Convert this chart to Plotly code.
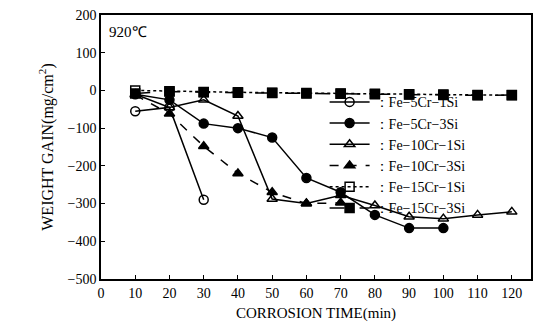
import plotly.graph_objects as go

time = [10, 20, 30, 40, 50, 60, 70, 80, 90, 100, 110, 120]

t_5cr1si = [10, 20, 30]
w_5cr1si = [-55, -45, -290]

t_5cr3si = [10, 20, 30, 40, 50, 60, 70, 80, 90, 100]
w_5cr3si = [-10, -25, -88, -100, -125, -232, -270, -330, -365, -365]

t_10cr1si = [10, 20, 30, 40, 50, 60, 70, 80, 90, 100, 110, 120]
w_10cr1si = [-10, -45, -25, -68, -288, -300, -278, -305, -335, -340, -330, -322]

t_10cr3si = [10, 20, 30, 40, 50, 60, 70]
w_10cr3si = [-12, -62, -148, -220, -270, -300, -298]

t_15cr1si = time
w_15cr1si = [0, -2, -4, -5, -6, -7, -8, -9, -10, -11, -12, -13]

t_15cr3si = time
w_15cr3si = [-8, -3, -5, -6, -7, -8, -9, -10, -11, -12, -13, -12]

labels = ["：Fe−5Cr−1Si", "：Fe−5Cr−3Si", "：Fe−10Cr−1Si",
          "：Fe−10Cr−3Si", "：Fe−15Cr−1Si", "：Fe−15Cr−3Si"]

series = [
    (t_5cr1si, w_5cr1si, "circle-open", "solid"),
    (t_5cr3si, w_5cr3si, "circle", "solid"),
    (t_10cr1si, w_10cr1si, "triangle-up-open", "solid"),
    (t_10cr3si, w_10cr3si, "triangle-up", "dash"),
    (t_15cr1si, w_15cr1si, "square-open", "dot"),
    (t_15cr3si, w_15cr3si, "square", "longdash"),
]

font = "serif"

fig = go.Figure()
for (x, y, sym, dash), name in zip(series, labels):
    fig.add_trace(go.Scatter(
        x=x, y=y, name=name, mode="lines+markers",
        line=dict(color="black", width=1.5, dash=dash),
        marker=dict(symbol=sym, size=9, color="black",
                    line=dict(color="black", width=1.5)),
    ))

fig.update_layout(
    width=541, height=327,
    margin=dict(l=101, r=8, t=13, b=44),
    paper_bgcolor="white", plot_bgcolor="white",
    font=dict(family=font, size=13, color="black"),
    showlegend=True,
    legend=dict(x=0.52, y=0.73, xanchor="left", yanchor="top",
                bgcolor="rgba(255,255,255,0)", borderwidth=0,
                font=dict(family=font, size=14, color="black"),
                itemwidth=40, tracegroupgap=0),
    annotations=[dict(text="920℃", x=0.015, y=0.975, xref="paper", yref="paper",
                      xanchor="left", yanchor="top", showarrow=False,
                      font=dict(family=font, size=15, color="black"))],
)
fig.update_xaxes(
    range=[0, 125.6], tickmode="array",
    tickvals=list(range(0, 121, 10)),
    ticks="inside", ticklen=4, tickcolor="black",
    showline=True, linecolor="black", linewidth=1.5, mirror=True,
    showgrid=False, zeroline=False,
    tickfont=dict(family=font, size=14),
    title=dict(text="CORROSION TIME(min)", font=dict(family=font, size=15), standoff=8),
)
fig.update_yaxes(
    range=[-500, 200], tickmode="array",
    tickvals=list(range(-500, 201, 100)),
    ticktext=[("−" + str(-v)) if v < 0 else str(v) for v in range(-500, 201, 100)],
    ticks="inside", ticklen=4, tickcolor="black",
    showline=True, linecolor="black", linewidth=1.5, mirror=True,
    showgrid=False, zeroline=False,
    tickfont=dict(family=font, size=14),
    title=dict(text="WEIGHT GAIN(mg/cm<sup>2</sup>)", font=dict(family=font, size=16), standoff=10),
)

fig.write_html("out.html")
